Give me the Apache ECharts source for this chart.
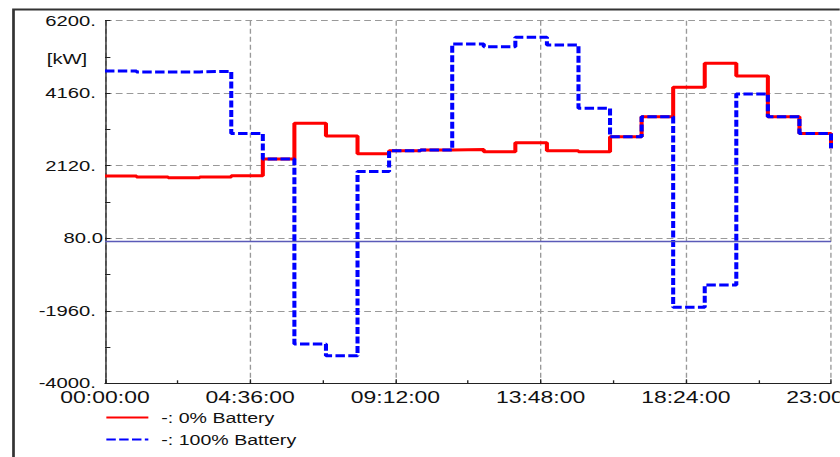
<!DOCTYPE html>
<html>
<head>
<meta charset="utf-8">
<script src="https://cdn.jsdelivr.net/npm/echarts@6/dist/echarts.min.js"></script>
<style>
  html, body { margin: 0; padding: 0; width: 840px; height: 457px; overflow: hidden; background: #fff; }
  #wrap { position: absolute; left: 0; top: 0; width: 840px; height: 457px; overflow: hidden; }
  #chart { position: absolute; left: 0; top: 0; height: 457px; transform-origin: 0 0; }
</style>
</head>
<body>
<div id="wrap"><div id="chart"></div></div>
<script>
// Hourly grid power for two battery scenarios (values in kW, hour of day)
const hours = [0, 1, 2, 3, 4, 5, 6, 7, 8, 9, 10, 11, 12, 13, 14, 15, 16, 17, 18, 19, 20, 21, 22, 23];
const battery0 = [1830, 1805, 1785, 1805, 1840, 2310, 3315, 2955, 2460, 2545, 2565, 2580,
                  2515, 2770, 2545, 2515, 2935, 3500, 4325, 5000, 4645, 3500, 3030, 2610];
const battery100 = [4785, 4760, 4760, 4775, 3030, 2310, -2895, -3225, 1955, 2545, 2565, 5545,
                    5470, 5735, 5515, 3735, 2935, 3500, -1860, -1235, 4140, 3500, 3030, 2610];
const seriesNames = ['-: 0% Battery', '-: 100% Battery'];
const xTickLabels = ['00:00:00', '04:36:00', '09:12:00', '13:48:00', '18:24:00', '23:00:00'];
const yTickLabels = ['-4000.', '-1960.', '80.0', '2120.', '4160.', '6200.'];
const unitLabel = '[kW]';

// The figure is drawn on a narrower canvas and widened horizontally.
const SX = 1.35;
const W = 840 / SX;
const FONT = 'Liberation Sans, Arial, Helvetica, sans-serif';
const el = document.getElementById('chart');
el.style.width = W + 'px';
el.style.transform = 'scaleX(' + SX + ')';

const toPoints = vals => hours.map((h, i) => [h * 60, vals[i]]);

const chart = echarts.init(el, null, { renderer: 'svg' });
chart.setOption({
  animation: false,
  backgroundColor: '#fff',
  textStyle: { fontFamily: FONT },
  grid: {
    left: 105 / SX, top: 20.7, width: 726 / SX, height: 362.6,
    containLabel: false, outerBoundsMode: 'none'
  },
  xAxis: {
    type: 'value', min: 0, max: 1380, interval: 276,
    axisLine: { show: true, onZero: false, lineStyle: { color: '#222', width: 1 } },
    axisTick: { show: true, inside: true, length: 4, lineStyle: { color: '#222' } },
    minorTick: { show: true, splitNumber: 2, length: 3, lineStyle: { color: '#222' } },
    splitLine: { show: true, lineStyle: { color: '#999', width: 1, type: [5, 3] } },
    axisLabel: {
      margin: 5.5, fontSize: 17, color: '#111', fontFamily: FONT,
      showMinLabel: true, showMaxLabel: true, hideOverlap: false,
      formatter: (v, i) => xTickLabels[i]
    }
  },
  yAxis: {
    type: 'value', min: -4000, max: 6200, interval: 2040,
    axisLine: { show: true, onZero: false, lineStyle: { color: '#222', width: 1 } },
    axisTick: { show: true, inside: true, length: 4, lineStyle: { color: '#222' } },
    minorTick: { show: true, splitNumber: 2, length: 4, lineStyle: { color: '#222' } },
    splitLine: { show: true, lineStyle: { color: '#999', width: 1, type: [5, 3] } },
    axisLabel: {
      margin: 1.5, fontSize: 15, color: '#111', fontFamily: FONT,
      showMinLabel: true, showMaxLabel: true,
      formatter: (v, i) => {
        const t = yTickLabels[i];
        return t.endsWith('.') ? '{d|' + t + '}' : '{z|' + t + '}';
      },
      rich: {
        d: { fontSize: 15, color: '#111', fontFamily: FONT, padding: [0, 7 / SX, 0, 0] },
        z: { fontSize: 15, color: '#111', fontFamily: FONT }
      }
    }
  },
  legend: {
    orient: 'vertical', left: 105 / SX, top: 410, padding: 0,
    itemWidth: 42 / SX, itemHeight: 14, itemGap: 7,
    data: seriesNames,
    lineStyle: { width: 2 },
    itemStyle: { color: 'transparent', borderWidth: 0, opacity: 0 },
    textStyle: { fontSize: 14.5, color: '#111', fontFamily: FONT, padding: [0, 0, 0, 4.6] }
  },
  graphic: [
    {
      type: 'rect', silent: true, z: 0,
      shape: { x: 13.5 / SX, y: 9.5, width: 2000, height: 1000 },
      style: { fill: 'none', stroke: '#333', lineWidth: 2 }
    },
    {
      type: 'text', silent: true, x: 67 / SX, y: 59,
      style: { text: unitLabel, fontSize: 15, fontFamily: FONT, fill: '#111', align: 'center', verticalAlign: 'middle' }
    }
  ],
  series: [
    {
      name: seriesNames[0], type: 'line', step: 'end', symbol: 'none',
      data: toPoints(battery0),
      lineStyle: { color: '#ff0000', width: 3 },
      itemStyle: { color: '#ff0000' },
      emphasis: { disabled: true },
      markLine: {
        silent: true, symbol: ['none', 'none'], label: { show: false },
        lineStyle: { color: '#5a5ab8', width: 1.3, type: 'solid' },
        data: [{ yAxis: 0 }]
      }
    },
    {
      name: seriesNames[1], type: 'line', step: 'end', symbol: 'none',
      data: toPoints(battery100),
      lineStyle: { color: '#0000ff', width: 3, type: [7, 2.5] },
      itemStyle: { color: '#0000ff' },
      emphasis: { disabled: true }
    }
  ]
});
</script>
</body>
</html>
